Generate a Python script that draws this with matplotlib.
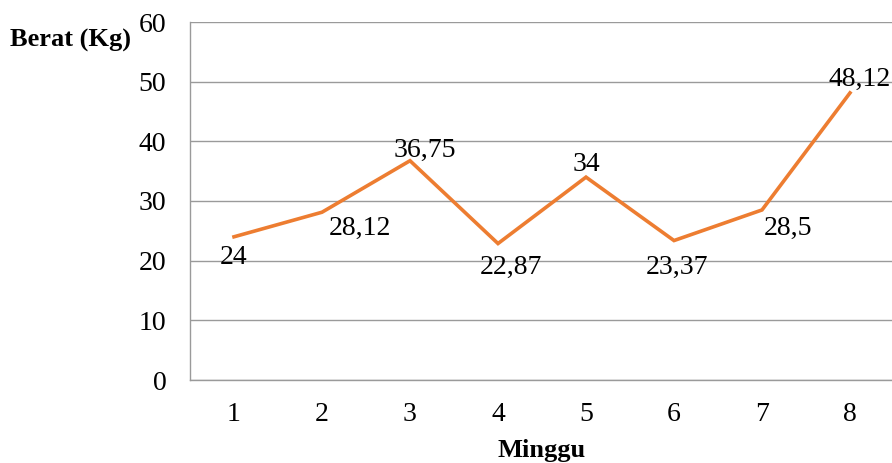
import matplotlib.pyplot as plt

minggu = [1, 2, 3, 4, 5, 6, 7, 8]
berat = [24, 28.12, 36.75, 22.87, 34, 23.37, 28.5, 48.12]
label_teks = ['24', '28,12', '36,75', '22,87', '34', '23,37', '28,5', '48,12']
# label offsets (points) relative to each data point
offset = [(0, -15), (27, -12), (11, 7.5), (9, -17), (0, 9), (2, -19), (19, -13.5), (7, 9.5)]

plt.rcParams['font.family'] = ['Liberation Serif', 'DejaVu Serif']

fig = plt.figure(figsize=(8.92, 4.63), dpi=100)
ax = fig.add_axes([190 / 892, 1 - 380 / 463, 704 / 892, 358 / 463])

x = list(range(len(minggu)))
ax.plot(x, berat, color='#ED7D31', linewidth=2.6, solid_joinstyle='miter')

for xi, yi, t, off in zip(x, berat, label_teks, offset):
    ax.annotate(t, (xi, yi), xytext=off, textcoords='offset points',
                ha='center', va='center', fontsize=20, color='black')

ax.set_xlim(-0.5, len(minggu) - 0.5)
ax.set_ylim(0, 60)
ax.set_yticks(range(0, 61, 10))
ax.set_xticks(x)
ax.set_xticklabels([str(m) for m in minggu])
ax.tick_params(axis='both', length=0, labelsize=20, colors='black')
ax.tick_params(axis='y', pad=17)
ax.tick_params(axis='x', pad=16)
ax.grid(axis='y', color='#9a9a9a', linewidth=1)
ax.set_axisbelow(True)
for s in ['top', 'right']:
    ax.spines[s].set_visible(False)
for s in ['left', 'bottom']:
    ax.spines[s].set_color('#9a9a9a')
    ax.spines[s].set_linewidth(1)

fig.text(10 / 892, 1 - 40 / 463, 'Berat (Kg)', fontsize=19, fontweight='bold', va='center', ha='left')
fig.text(542 / 892, 1 - 451 / 463, 'Minggu', fontsize=19, fontweight='bold', va='center', ha='center')

fig.savefig('out.png', dpi=100)
